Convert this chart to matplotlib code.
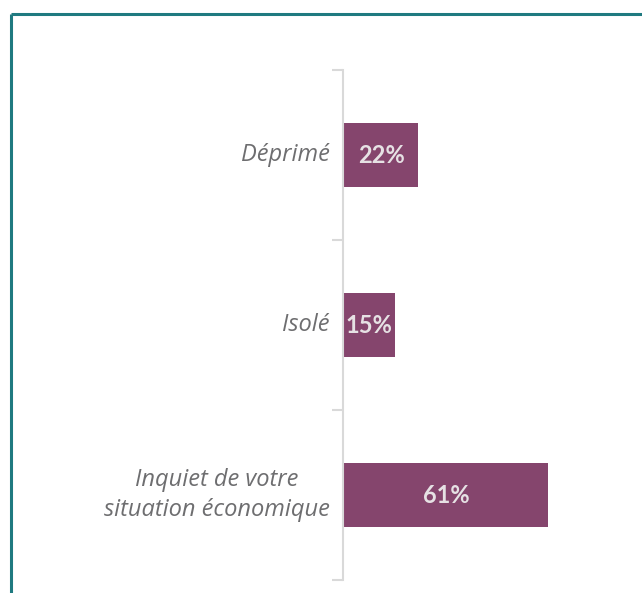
import matplotlib.pyplot as plt
from matplotlib.lines import Line2D

categories = ["Déprimé", "Isolé", "Inquiet de votre\nsituation économique"]
values = [22, 15, 61]
value_labels = ["22%", "15%", "61%"]

BAR_COLOR = "#85456d"
LABEL_COLOR = "#6e6e70"
AXIS_COLOR = "#d9d9d9"
FRAME_COLOR = "#1f7a80"

W, H = 642, 593
fig = plt.figure(figsize=(W / 100, H / 100), dpi=100)

# cadre turquoise (haut + gauche)
fig.add_artist(Line2D([11 / W, 11 / W], [0, 1 - 14 / H], transform=fig.transFigure,
                      color=FRAME_COLOR, lw=2.2, solid_capstyle="butt"))
fig.add_artist(Line2D([11 / W, 1], [1 - 14 / H, 1 - 14 / H], transform=fig.transFigure,
                      color=FRAME_COLOR, lw=2.2, solid_capstyle="butt"))

ax_left, ax_right = 343, 632
ax_top, ax_bottom = 70, 580
ax = fig.add_axes([ax_left / W, 1 - ax_bottom / H, (ax_right - ax_left) / W, (ax_bottom - ax_top) / H])

px_per_unit = 204 / 61
ax.set_xlim(0, (ax_right - ax_left) / px_per_unit)
n = len(categories)
ax.set_ylim(n - 0.5, -0.5)

ypos = list(range(n))
bars = ax.barh(ypos, values, height=0.375, color=BAR_COLOR, left=0.4)

for b, lab in zip(bars, value_labels):
    ax.text(b.get_x() + b.get_width() / 2, b.get_y() + b.get_height() / 2, lab,
            ha="center", va="center", color="#e6e1e4", fontsize=17,
            fontweight="bold", family="Lato")

for y, cat in zip(ypos, categories):
    ax.text(-4.0, y, cat, ha="right", va="center", multialignment="center",
            color=LABEL_COLOR, fontsize=17, style="italic", family="Open Sans",
            linespacing=1.3)

# axe vertical + petites graduations entre catégories
for s in ["top", "right", "bottom"]:
    ax.spines[s].set_visible(False)
ax.spines["left"].set_color(AXIS_COLOR)
ax.spines["left"].set_linewidth(1.5)
ax.set_xticks([])
ax.set_yticks([y - 0.5 for y in range(n + 1)])
ax.set_yticklabels([])
ax.tick_params(axis="y", length=8, width=1.5, color=AXIS_COLOR)

fig.savefig("out.png", dpi=100)
